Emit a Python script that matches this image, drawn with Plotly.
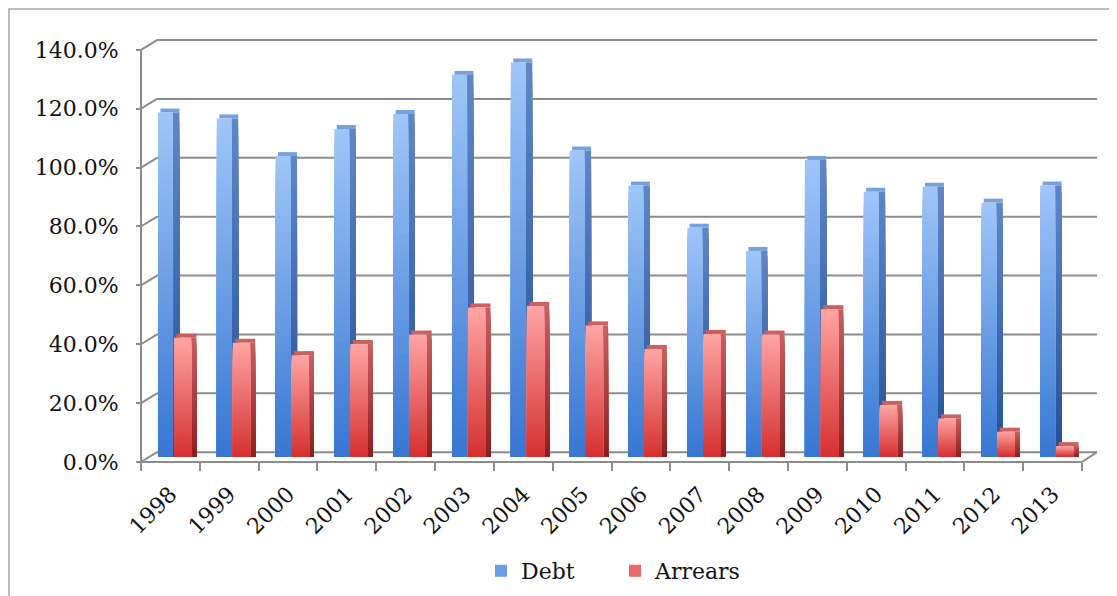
import plotly.graph_objects as go

# ---------------- data ----------------
years = ["1998", "1999", "2000", "2001", "2002", "2003", "2004", "2005",
         "2006", "2007", "2008", "2009", "2010", "2011", "2012", "2013"]
debt = [117.0, 115.0, 102.2, 111.4, 116.5, 129.8, 134.0, 104.1,
        92.2, 77.9, 70.0, 100.9, 90.1, 91.8, 86.4, 92.2]
arrears = [40.5, 38.8, 34.6, 38.4, 41.6, 50.8, 51.3, 44.7,
           36.7, 41.8, 41.6, 50.2, 17.7, 13.1, 8.6, 3.7]
y_ticks = [0, 20, 40, 60, 80, 100, 120, 140]
y_tick_text = ["0.0%", "20.0%", "40.0%", "60.0%", "80.0%", "100.0%", "120.0%", "140.0%"]

# ---------------- geometry (reference pixels) ----------------
OFF = 8                     # page body margin in the browser
W, H = 1117 - OFF, 596 - OFF
PL, PR, PT, PB = 130, 1105, 30, 470          # plot area (window coords)
X0, X1 = 141, 1082                            # front floor left/right
CAT = (X1 - X0) / len(years)
FRONT0, BAR0, BACK0 = 462.0, 457.0, 452.2     # zero level: front, bars, back wall
PPU = 2.944                                   # pixels per percent
BACK_L, BACK_R = 157, 1097
CAP_PX = 4                                    # height of the bar top face


def cx(px):
    return (px - X0) / CAT - 0.5


def rng(zero):
    return [-(PB - zero) / PPU, (zero - PT) / PPU]


def paper_x(px):
    return (px - PL) / (PR - PL)


def paper_y(py):
    return (PB - py) / (PB - PT)


back_shift = (FRONT0 - BACK0) / PPU
FONT = "DejaVu Serif"
GRID = "#8c8c8c"
TXT = "#111111"

N = 40


def mix(c1, c2, t):
    return "rgb(%d,%d,%d)" % tuple(round(a + (b - a) * t) for a, b in zip(c1, c2))


fig = go.Figure()


def layered(name, vals, off_px, w_px, top, bottom, legend):
    for k in range(N, 0, -1):
        frac = k / N
        col = mix(bottom, top, (k - 0.5) / N)
        fig.add_trace(go.Bar(
            x=years, y=[v * frac for v in vals],
            offset=off_px / CAT, width=w_px / CAT,
            marker=dict(color=col, line=dict(width=0)),
            yaxis="y2", name=name, legendgroup=name,
            showlegend=(legend and k == N // 2), hoverinfo="skip"))


def cap(name, vals, off_px, w_px, color):
    fig.add_trace(go.Bar(
        x=years, y=[CAP_PX / PPU] * len(vals), base=vals,
        offset=off_px / CAT, width=w_px / CAT,
        marker=dict(color=color, line=dict(width=0)),
        yaxis="y2", name=name, legendgroup=name, showlegend=False, hoverinfo="skip"))


# debt: top, side, face
cap("Debt", debt, -10.0, 19, "rgb(118,160,222)")
layered("Debt", debt, 2.0, 7, (95, 135, 200), (35, 80, 150), False)
layered("Debt", debt, -12.4, 15, (160, 198, 248), (55, 118, 210), True)
# arrears: top, side, face
cap("Arrears", arrears, 6.0, 20, "rgb(205,95,95)")
layered("Arrears", arrears, 20.5, 5.5, (200, 95, 95), (140, 30, 30), False)
layered("Arrears", arrears, 3.6, 17.4, (255, 165, 165), (212, 48, 48), True)

shapes = []
xb0, xb1 = cx(BACK_L), cx(BACK_R)
for v in y_ticks:
    yb = v + back_shift
    shapes.append(dict(type="line", xref="x", yref="y", x0=xb0, x1=xb1, y0=yb, y1=yb,
                       line=dict(color=GRID, width=2), layer="below"))
    shapes.append(dict(type="line", xref="x", yref="y", x0=-0.5, x1=xb0, y0=v, y1=yb,
                       line=dict(color=GRID, width=2), layer="below"))
# front axis lines
shapes.append(dict(type="line", xref="x", yref="y", x0=-0.5, x1=-0.5, y0=0, y1=y_ticks[-1],
                   line=dict(color=GRID, width=2), layer="below"))
shapes.append(dict(type="line", xref="x", yref="y", x0=-0.5, x1=len(years) - 0.5, y0=0, y1=0,
                   line=dict(color=GRID, width=2), layer="below"))
shapes.append(dict(type="line", xref="x", yref="y", x0=len(years) - 0.5, x1=xb1, y0=0, y1=back_shift,
                   line=dict(color=GRID, width=2), layer="below"))
# outer chart border
shapes.append(dict(type="rect", xref="paper", yref="paper",
                   x0=paper_x(9), x1=paper_x(1130),
                   y0=paper_y(610), y1=paper_y(9),
                   line=dict(color="#a6a6a6", width=1.5), fillcolor="rgba(0,0,0,0)"))

fig.update_layout(
    width=W, height=H,
    margin=dict(l=PL - OFF, r=(W + OFF) - PR, t=PT - OFF, b=(H + OFF) - PB, autoexpand=False),
    paper_bgcolor="white", plot_bgcolor="white",
    barmode="overlay",
    font=dict(family=FONT, size=22, color=TXT),
    xaxis=dict(type="category", range=[cx(PL), cx(PR)], anchor="free",
               position=paper_y(FRONT0),
               showgrid=False, zeroline=False, showline=False,
               ticks="outside", ticklen=8, tickwidth=2, tickcolor=GRID,
               tickson="boundaries", tickangle=-45, ticklabelstandoff=14,
               tickfont=dict(family=FONT, size=22, color=TXT)),
    yaxis=dict(range=rng(FRONT0), anchor="free", position=paper_x(X0),
               tickvals=y_ticks, ticktext=y_tick_text,
               showgrid=False, zeroline=False, showline=False,
               ticks="outside", ticklen=5, tickwidth=2, tickcolor=GRID,
               ticklabelstandoff=13,
               tickfont=dict(family=FONT, size=22, color=TXT)),
    yaxis2=dict(range=rng(BAR0), overlaying="y", visible=False),
    legend=dict(orientation="h", x=paper_x(481), xanchor="left",
                y=paper_y(571), yanchor="middle", entrywidth=89,
                font=dict(family=FONT, size=22, color=TXT),
                bgcolor="rgba(0,0,0,0)", itemwidth=30, tracegroupgap=0),
    shapes=shapes,
    showlegend=True,
)

fig.write_html("out.html")
